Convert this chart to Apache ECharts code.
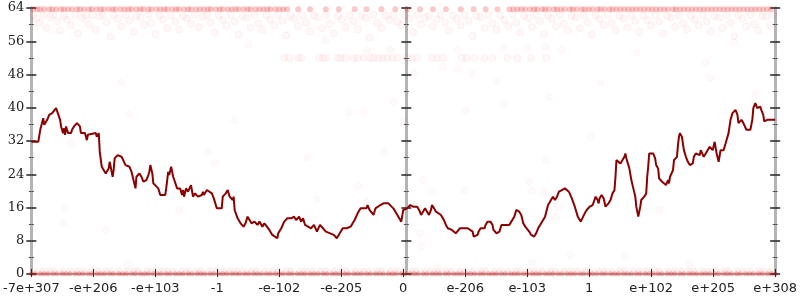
<!DOCTYPE html>
<html lang="en">
  <head>
    <meta charset="UTF-8" />
    <title>Float histogram</title>
    <script src="https://cdn.jsdelivr.net/npm/echarts@6/dist/echarts.min.js"></script>
  </head>
  <style>
    html,
    body {
      margin: 0;
      padding: 0;
      background: #fff;
    }
    #chart {
      width: 800px;
      height: 300px;
    }
  </style>
  <body>
    <div id="chart"></div>
  </body>
  <script>
    // x is in bins (0..750), each label step is 62.5 bins
    const xLabels = ["-7e+307", "-e+206", "-e+103", "-1", "-e-102", "-e-205", "0",
      "e-206", "e-103", "1", "e+102", "e+205", "e+308"];

    const lineData = [
      [0, 31.8], [7, 31.8], [9, 34.7], [12, 37.5], [13, 35.9], [16, 37.1], [18, 38.3], [21, 38.7], [22, 38.3],
      [25, 39.9], [27, 39.5], [29, 37.1], [30, 35.5], [32, 33.9], [33, 35.1], [34, 33.5], [35, 35.5], [37, 33.9],
      [39, 34.3], [40, 33.9], [41, 34.7], [43, 35.5], [46, 36.3], [48, 36.7], [49, 35.5], [50, 33.9], [52, 33.5],
      [54, 33.9], [56, 32.2], [57, 33.5], [59, 33.9], [65, 33.9], [66, 33.0], [68, 33.9], [69, 29.4], [71, 25.8],
      [75, 24.2], [76, 23.8], [78, 25.4], [79, 27.0], [82, 23.4], [83, 25.0], [84, 27.8], [87, 28.6], [88, 28.2],
      [89, 29.0], [91, 28.2], [92, 28.6], [95, 26.2], [97, 25.8], [99, 25.8], [101, 24.6], [103, 22.6], [105, 20.6],
      [106, 23.4], [109, 24.2], [111, 23.4], [113, 22.2], [116, 22.6], [118, 23.8], [119, 24.6], [120, 26.2],
      [122, 24.2], [123, 21.8], [125, 21.4], [128, 20.6], [130, 19.0], [135, 19.0], [136, 20.6], [138, 24.6],
      [139, 23.8], [141, 25.8], [143, 23.4], [145, 23.0], [147, 20.6], [150, 20.6], [152, 19.0], [153, 20.2],
      [154, 18.6], [156, 20.6], [158, 19.8], [161, 21.4], [163, 18.6], [165, 19.4], [168, 18.6], [172, 19.0],
      [173, 19.8], [174, 19.0], [177, 20.2], [182, 19.4], [184, 18.2], [187, 15.8], [192, 15.8], [193, 18.6],
      [196, 19.4], [198, 20.2], [200, 18.6], [202, 19.0], [203, 17.8], [204, 18.6], [205, 15.4], [208, 13.4],
      [211, 12.2], [214, 11.4], [216, 12.2], [218, 13.8], [220, 13.0], [222, 12.2], [225, 12.6], [228, 11.8],
      [230, 12.6], [233, 11.4], [235, 12.2], [240, 10.6], [243, 9.4], [245, 9.8], [248, 8.6], [249, 9.8],
      [252, 11.0], [255, 12.6], [258, 13.4], [260, 13.8], [262, 13.4], [265, 13.8], [267, 13.0], [270, 13.8],
      [272, 12.6], [274, 13.4], [276, 11.8], [282, 11.0], [285, 11.8], [288, 10.2], [291, 11.8], [294, 11.0],
      [297, 10.2], [305, 9.4], [308, 8.6], [311, 9.8], [314, 11.0], [318, 11.0], [322, 11.4], [324, 12.2],
      [326, 13.0], [329, 14.6], [332, 15.8], [338, 15.8], [339, 16.6], [341, 15.4], [343, 15.8], [345, 14.2],
      [347, 15.8], [352, 16.6], [355, 17.0], [357, 16.6], [360, 17.0], [362, 17.0], [365, 15.8], [367, 15.8],
      [368, 14.6], [371, 13.4], [373, 12.6], [375, 15.4], [379, 15.8], [382, 16.6], [385, 16.2], [387, 16.6],
      [389, 16.2], [391, 15.4], [393, 14.2], [395, 14.6], [397, 15.8], [399, 15.4], [401, 14.2], [403, 15.4],
      [404, 16.6], [406, 15.8], [408, 15.0], [410, 14.6], [413, 14.2], [416, 13.0], [418, 11.8], [420, 11.0],
      [422, 11.4], [424, 10.6], [426, 11.0], [428, 9.8], [430, 10.2], [432, 11.0], [434, 11.4], [436, 11.0],
      [438, 11.4], [440, 11.0], [442, 11.4], [445, 10.2], [446, 9.0], [450, 9.4], [451, 10.2], [453, 11.0],
      [455, 10.6], [457, 11.0], [458, 11.8], [460, 12.6], [463, 12.6], [465, 11.8], [466, 10.6], [468, 11.0],
      [469, 9.8], [470, 9.4], [472, 10.2], [474, 11.8], [476, 12.2], [478, 11.8], [480, 12.2], [482, 11.8],
      [484, 12.6], [485, 13.0], [487, 13.8], [489, 15.4], [490, 15.8], [492, 15.0], [494, 14.2], [496, 12.2],
      [498, 11.4], [500, 11.0], [502, 10.2], [504, 9.4], [507, 9.0], [509, 9.8], [511, 11.0], [513, 11.8],
      [515, 12.2], [518, 13.8], [521, 16.6], [524, 17.8], [526, 18.6], [528, 17.8], [530, 18.6], [532, 19.8],
      [535, 20.2], [538, 20.6], [540, 20.2], [542, 19.8], [545, 18.2], [548, 16.2], [551, 13.8], [554, 12.6],
      [556, 13.0], [558, 14.6], [560, 15.4], [562, 15.0], [563, 16.2], [565, 15.8], [566, 16.6], [569, 18.6],
      [571, 17.8], [572, 17.0], [573, 18.2], [575, 19.0], [577, 18.2], [579, 16.2], [582, 17.0], [584, 17.8],
      [586, 19.4], [588, 20.2], [589, 23.4], [590, 27.4], [592, 27.0], [594, 26.6], [596, 27.0], [598, 28.2],
      [599, 29.0], [600, 27.8], [602, 26.2], [603, 25.4], [605, 22.6], [607, 20.6], [609, 18.6], [610, 16.2],
      [611, 15.0], [612, 13.8], [614, 16.2], [615, 17.8], [617, 18.2], [618, 18.6], [620, 19.4], [621, 23.4],
      [622, 25.8], [623, 29.0], [627, 29.0], [629, 27.8], [630, 26.2], [632, 25.4], [633, 23.0], [636, 22.2],
      [638, 21.8], [640, 21.4], [642, 22.6], [643, 21.8], [644, 23.4], [646, 23.0], [647, 25.0], [648, 27.4],
      [650, 27.8], [651, 28.2], [652, 31.0], [653, 33.0], [654, 33.9], [656, 33.0], [658, 29.8], [660, 28.2],
      [662, 27.0], [664, 26.2], [665, 25.8], [667, 26.6], [668, 28.2], [670, 29.0], [672, 29.4], [674, 28.6],
      [675, 29.8], [677, 29.4], [678, 28.2], [680, 29.0], [682, 29.4], [684, 30.6], [686, 31.0], [687, 29.8],
      [689, 31.8], [691, 29.0], [693, 27.0], [695, 29.8], [698, 29.8], [700, 31.4], [703, 33.9], [705, 37.1],
      [707, 38.7], [710, 39.5], [712, 38.3], [713, 36.3], [716, 37.1], [718, 36.3], [721, 34.7], [725, 34.7],
      [727, 37.1], [728, 39.9], [730, 41.1], [732, 39.9], [735, 40.3], [736, 39.5], [738, 38.3], [739, 36.7],
      [741, 36.3], [742, 37.1], [750, 37.1]
    ];

    // dense band of counts right under the top edge
    const topBandLevel = 63.7;
    const topBandX = [2, 6, 9, 13, 18, 21, 25, 30, 33, 37, 41, 46, 49, 53, 58, 61, 66, 70, 73, 78, 82, 85, 90, 94,
      98, 101, 106, 110, 113, 118, 121, 126, 130, 134, 137, 142, 146, 149, 154, 158, 161, 166, 170, 174, 178, 181,
      186, 190, 193, 198, 202, 206, 209, 214, 218, 221, 226, 230, 234, 238, 241, 246, 250, 254, 258,
      269, 281, 297, 310, 326, 338, 353, 367, 379, 392, 405, 418, 433, 446, 458, 470,
      482, 486, 490, 494, 498, 503, 507, 510, 515, 518, 522, 527, 530, 534, 538, 543, 546, 550, 555, 558, 562,
      566, 571, 574, 578, 583, 586, 590, 594, 598, 602, 606, 610, 614, 618, 622, 626, 630, 634, 638, 642, 647,
      650, 654, 658, 662, 666, 670, 674, 678, 682, 686, 690, 694, 698, 702, 706, 710, 714, 718, 722, 726, 730,
      734, 738, 742, 746];

    const cloud = [
      [2, 62.2], [5, 61.5], [8, 60.4], [12, 62.3], [15, 59.2], [19, 61.8], [22, 62.4], [26, 60.8], [29, 58.6],
      [33, 62.1], [36, 61.2], [40, 59.8], [44, 62.4], [47, 57.9], [51, 61.6], [55, 62.2], [58, 60.1], [62, 62.3],
      [65, 58.9], [69, 61.9], [72, 62.4], [76, 60.6], [80, 57.1], [83, 62.2], [87, 61.4], [91, 59.5], [95, 62.3],
      [99, 60.9], [103, 58.3], [106, 62.1], [110, 61.7], [114, 59.9], [118, 62.4], [121, 60.4], [125, 57.7],
      [129, 62.2], [133, 61.3], [137, 59.1], [141, 62.3], [145, 60.7], [149, 58.8], [153, 62.1], [157, 61.5],
      [161, 60.2], [165, 62.4], [169, 59.4], [173, 61.9], [177, 62.3], [181, 60.5], [185, 58.1], [189, 62.2],
      [193, 61.1], [197, 59.7], [201, 62.4], [205, 60.8], [209, 57.6], [213, 62.1], [217, 61.6], [221, 59.3],
      [225, 62.3], [229, 60.3], [233, 58.7], [237, 62.2], [241, 61.2], [245, 59.8], [249, 62.4], [253, 60.9],
      [257, 57.4], [261, 62.1], [265, 61.4], [269, 59.6], [273, 62.3], [277, 60.6], [281, 58.4], [285, 62.2],
      [289, 61.8], [293, 59.1], [297, 62.4], [301, 60.2], [305, 57.9], [309, 62.1], [313, 61.3], [317, 59.4],
      [321, 62.3], [325, 60.8], [329, 58.9], [333, 62.2], [337, 61.6], [341, 56.9], [345, 62.4], [349, 60.4],
      [353, 59.2], [357, 62.1], [361, 61.1], [365, 62.3], [369, 60.7], [373, 59.9], [377, 62.2], [381, 61.5],
      [385, 58.2], [389, 62.4], [393, 60.1], [397, 61.7], [401, 62.1], [405, 59.5], [409, 61.3], [413, 62.3],
      [417, 60.6], [421, 58.6], [425, 62.2], [429, 61.4], [433, 59.8], [437, 62.4], [441, 60.9], [445, 57.3],
      [449, 62.1], [453, 61.8], [457, 59.2], [461, 62.3], [465, 60.3], [469, 58.8], [473, 62.2], [477, 61.2],
      [481, 59.7], [485, 62.4], [489, 60.5], [493, 58.1], [497, 62.1], [501, 61.6], [505, 59.4], [509, 62.3],
      [513, 60.8], [517, 57.8], [521, 62.2], [525, 61.4], [529, 59.6], [533, 62.4], [537, 60.2], [541, 58.5],
      [545, 62.1], [549, 61.7], [553, 59.1], [557, 62.3], [561, 60.6], [565, 57.6], [569, 62.2], [573, 61.3],
      [577, 59.9], [581, 62.4], [585, 60.4], [589, 58.7], [593, 62.1], [597, 61.5], [601, 59.3], [605, 62.3],
      [609, 60.9], [613, 58.3], [617, 62.2], [621, 61.1], [625, 59.7], [629, 62.4], [633, 60.7], [637, 57.9],
      [641, 62.1], [645, 61.8], [649, 59.5], [653, 62.3], [657, 60.3], [661, 58.9], [665, 62.2], [669, 61.2],
      [673, 59.8], [677, 62.4], [681, 60.8], [685, 58.4], [689, 62.1], [693, 61.6], [697, 59.2], [701, 62.3],
      [705, 60.5], [709, 57.2], [713, 62.2], [717, 61.4], [721, 59.6], [725, 62.4], [729, 60.1], [733, 58.6],
      [737, 62.1], [741, 61.9], [745, 59.9], [748, 62.3]
    ];

    const row52Level = 52.0;
    const row52X = [255, 260, 269, 272, 290, 294, 297, 309, 312, 317, 325, 329, 335, 342, 345, 350, 354, 359,
      364, 369, 379, 384, 389, 404, 409, 415, 434, 439, 447, 457, 465, 480, 490, 504, 519];

    const stray = [
      [99, 38.3], [40, 31.5], [34, 15.9], [32, 12.3], [75, 10.6], [149, 15.4], [205, 37], [178, 29.6], [185, 26.7],
      [278, 27.9], [288, 18], [320, 39], [335, 39], [355, 29.6], [329, 21.2], [338, 17.3], [365, 41.4], [477, 40.7],
      [438, 39.2], [375, 36.6], [564, 33], [519, 27.4], [395, 22.6], [404, 19.8], [437, 20.2], [502, 22.1],
      [505, 20], [517, 20], [531, 16.1], [528, 13.7], [392, 9.8], [650, 25.5], [633, 15.4], [415, 49.8],
      [430, 53.9], [430, 49.4], [385, 48.3], [444, 48.3], [469, 46.2], [522, 42.6], [477, 54.6], [500, 54.4],
      [519, 54.6], [535, 54], [219, 55.1], [297, 56.3], [339, 53.9], [362, 53.9], [610, 53.2], [680, 50.8],
      [684, 47.2], [574, 46], [730, 43.3], [708, 55.8], [91, 46], [97, 2.2], [393, 6.5], [544, 4.6], [505, 2.9],
      [410, 1.4], [599, 4.3], [664, 2.4]
    ];

    // dense band at zero and the lighter row just above it
    const zeroBandLevel = 0.05;
    const zeroBandX = [0, 4, 9, 13, 17, 22, 26, 31, 35, 39, 44, 48, 52, 57, 61, 66, 70, 74, 79, 83, 88, 92, 96,
      101, 105, 110, 114, 118, 123, 127, 131, 136, 140, 145, 149, 153, 158, 162, 167, 171, 175, 180, 184, 189,
      193, 197, 202, 206, 210, 215, 219, 224, 228, 232, 237, 241, 246, 250, 254, 259, 263, 268, 272, 276, 281,
      285, 289, 294, 298, 303, 307, 311, 316, 320, 325, 329, 333, 338, 342, 347, 351, 355, 360, 364, 368, 373,
      377, 382, 386, 390, 395, 399, 404, 408, 412, 417, 421, 426, 430, 434, 439, 443, 447, 452, 456, 461, 465,
      469, 474, 478, 483, 487, 491, 496, 500, 505, 509, 513, 518, 522, 526, 531, 535, 540, 544, 548, 553, 557,
      562, 566, 570, 575, 579, 584, 588, 592, 597, 601, 605, 610, 614, 619, 623, 627, 632, 636, 641, 645, 649,
      654, 658, 663, 667, 671, 676, 680, 684, 689, 693, 698, 702, 706, 711, 715, 720, 724, 728, 733, 737, 742,
      746, 750];
    const lowRowLevel = 0.8;
    const lowRowX = [3, 11, 18, 23, 32, 39, 46, 52, 61, 67, 75, 80, 88, 96, 103, 108, 117, 122, 131, 137, 143,
      152, 158, 166, 171, 180, 186, 194, 201, 207, 214, 222, 227, 236, 243, 249, 257, 262, 271, 277, 284, 292,
      297, 306, 313, 318, 327, 334, 340, 348, 353, 362, 368, 375, 383, 388, 397, 403, 410, 418, 423, 432, 438,
      445, 453, 458, 467, 473, 480, 488, 493, 502, 508, 515, 523, 528, 537, 543, 550, 558, 563, 572, 578, 585,
      593, 598, 607, 613, 620, 628, 633, 642, 648, 655, 663, 668, 677, 683, 690, 698, 703, 712, 718, 725, 733,
      738, 745];

    const chart = echarts.init(document.getElementById("chart"));

    const dotStyle = {
      color: "rgba(255,0,0,0.035)",
      borderColor: "rgba(235,0,0,0.07)",
      borderWidth: 1,
    };
    const bandStyle = {
      color: "rgba(235,20,20,0.28)",
      borderWidth: 0,
    };

    function yAx(pos, offset, inside, labels) {
      return {
        type: "value",
        min: 0,
        max: 64,
        interval: 8,
        position: pos,
        offset: offset,
        axisLine: { show: true, lineStyle: { color: "#b4b4b4", width: 3 } },
        axisTick: { show: true, inside: inside, length: 5, lineStyle: { color: "#222", width: 1.5 } },
        minorTick: { show: true, splitNumber: 2, length: 2.5, lineStyle: { color: "#555", width: 1 } },
        splitLine: { show: false },
        axisLabel: {
          show: labels,
          margin: 7,
          color: "#222",
          fontFamily: "DejaVu Serif",
          fontSize: 13,
        },
      };
    }

    var option = {
      animation: false,
      grid: { left: 28, right: 22, top: 8, bottom: 26 },
      xAxis: [
        {
          type: "value",
          min: 0,
          max: 750,
          interval: 62.5,
          position: "bottom",
          axisLine: { show: true, lineStyle: { color: "#b4b4b4", width: 2 } },
          axisTick: { show: true, inside: false, length: 3, lineStyle: { color: "#222", width: 1 } },
          splitLine: { show: false },
          axisLabel: {
            margin: 8,
            color: "#222",
            fontFamily: "DejaVu Sans",
            fontSize: 13,
            formatter: (v) => xLabels[Math.round(v / 62.5)],
          },
        },
        {
          type: "value",
          min: 0,
          max: 750,
          interval: 62.5,
          position: "bottom",
          axisLine: { show: false },
          axisTick: { show: true, inside: true, length: 5, lineStyle: { color: "#222", width: 1 } },
          axisLabel: { show: false },
          splitLine: { show: false },
        },
        {
          type: "value",
          min: 0,
          max: 750,
          position: "top",
          axisLine: { show: true, lineStyle: { color: "#b4b4b4", width: 2 } },
          axisTick: { show: false },
          axisLabel: { show: false },
          splitLine: { show: false },
        },
      ],
      yAxis: [
        yAx("left", 0, false, true),
        yAx("left", 0, true, false),
        yAx("left", -375, false, false),
        yAx("left", -375, true, false),
        yAx("right", 0, false, false),
        yAx("right", 0, true, false),
      ],
      series: [
        {
          type: "scatter",
          symbolSize: 6,
          clip: false,
          itemStyle: bandStyle,
          data: topBandX.map((x) => [x, topBandLevel]),
        },
        {
          type: "scatter",
          symbolSize: 7,
          clip: false,
          itemStyle: dotStyle,
          data: cloud,
        },
        {
          type: "scatter",
          symbolSize: 7,
          itemStyle: dotStyle,
          data: row52X.map((x) => [x, row52Level]),
        },
        {
          type: "scatter",
          symbolSize: 7,
          itemStyle: { color: "rgba(255,0,0,0.025)", borderColor: "rgba(235,0,0,0.04)", borderWidth: 1 },
          data: stray,
        },
        {
          type: "scatter",
          symbolSize: 5,
          clip: false,
          itemStyle: { color: "rgba(225,20,20,0.4)", borderWidth: 0 },
          data: zeroBandX.map((x) => [x, zeroBandLevel]),
        },
        {
          type: "scatter",
          symbolSize: 7,
          clip: false,
          itemStyle: { color: "rgba(255,0,0,0.07)", borderWidth: 0 },
          data: lowRowX.map((x) => [x, lowRowLevel]),
        },
        {
          type: "line",
          data: lineData,
          symbol: "none",
          z: 5,
          lineStyle: { color: "#8b0000", width: 2 },
        },
      ],
    };
    chart.setOption(option);
  </script>
</html>
